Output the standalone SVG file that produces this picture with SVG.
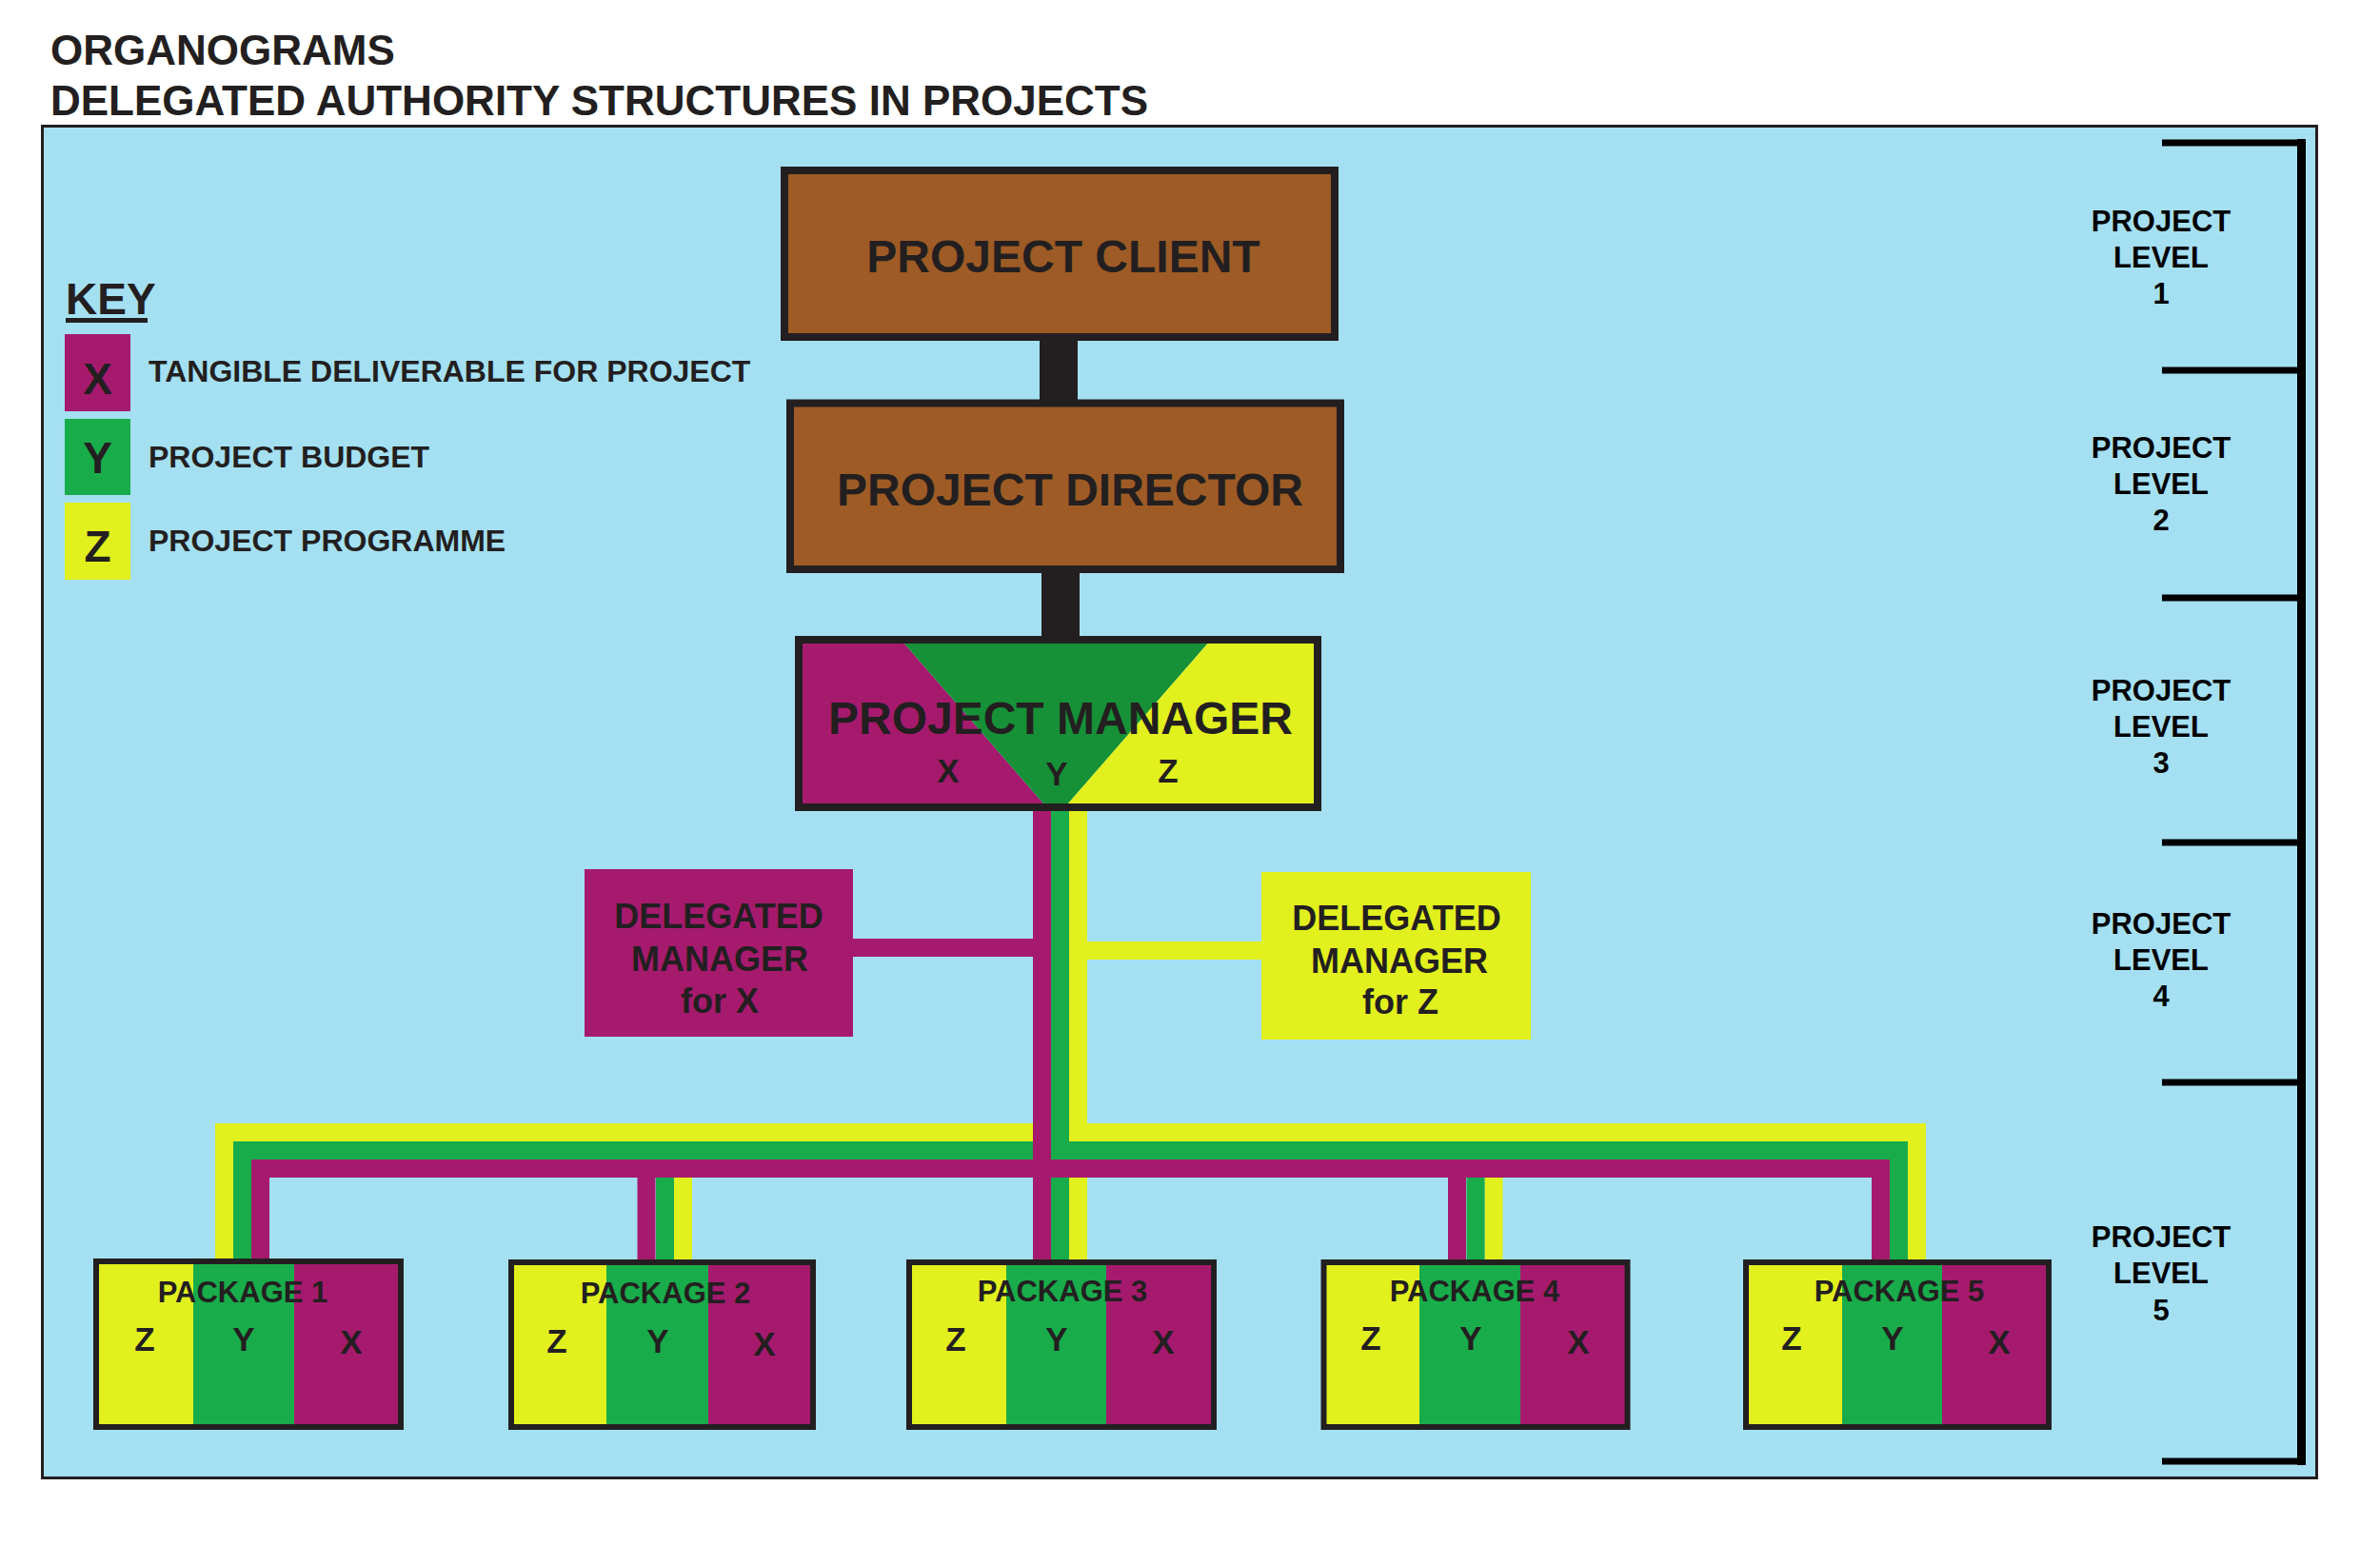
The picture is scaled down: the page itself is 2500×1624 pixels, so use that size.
<svg xmlns="http://www.w3.org/2000/svg" width="2500" height="1624" viewBox="0 0 2500 1624">
<style>
text{font-family:"Liberation Sans",Arial,Helvetica,sans-serif;font-weight:bold;fill:#231f20}
.title{font-size:44px}
.node{font-size:48px;text-anchor:middle}
.dl{font-size:36px;text-anchor:middle}
.key{font-size:32px}
.kl{font-size:46px;text-anchor:middle}
.pk{font-size:31px;text-anchor:middle}
.pl{font-size:35px;text-anchor:middle}
.lv{font-size:31px;text-anchor:middle;fill:#000}
.box{stroke:#231f20;stroke-width:8}
.pbox{fill:none;stroke:#231f20;stroke-width:6}
.mag{fill:#a61a6e}
.grn{fill:#19ac4b}
.yel{fill:#e2f01e}
.brn{fill:#9e5b25}
.cy{fill:none;stroke:#e2f01e;stroke-width:19}
.cg{fill:none;stroke:#19ac4b;stroke-width:19}
.cm{fill:none;stroke:#a61a6e;stroke-width:19}
</style>
<rect width="2500" height="1624" fill="#ffffff"/>
<text class="title" x="53" y="68">ORGANOGRAMS</text>
<text class="title" x="53" y="121">DELEGATED AUTHORITY STRUCTURES IN PROJECTS</text>
<rect x="44.5" y="132.5" width="2389" height="1420" fill="#a4e0f2" stroke="#231f20" stroke-width="3"/>

<g id="key">
<text x="69" y="330" style="font-size:46px">KEY</text>
<rect x="69" y="334" width="86" height="5" fill="#231f20"/>
<rect class="mag" x="68" y="351" width="69" height="81"/>
<text class="kl" x="102.5" y="414">X</text>
<rect class="grn" x="68" y="440" width="69" height="80"/>
<text class="kl" x="102.5" y="497">Y</text>
<rect class="yel" x="68" y="528" width="69" height="81"/>
<text class="kl" x="102.5" y="590">Z</text>
<text class="key" x="156" y="401">TANGIBLE DELIVERABLE FOR PROJECT</text>
<text class="key" x="156" y="491">PROJECT BUDGET</text>
<text class="key" x="156" y="579">PROJECT PROGRAMME</text>
</g>

<g id="connectors">
<rect x="1092" y="354" width="40" height="70" fill="#231f20"/>
<rect x="1094" y="598" width="40" height="74" fill="#231f20"/>
<path class="cy" d="M1132.5,848 V1189.5 M235.5,1323 V1189.5 H2013.5 V1323 M717.5,1189.5 V1323 M1132.5,1189.5 V1323 M1569,1189.5 V1323 M1142,998.5 H1326"/>
<path class="cg" d="M1113.5,848 V1208.5 M254.5,1323 V1208.5 H1994.5 V1323 M698.5,1208.5 V1323 M1113.5,1208.5 V1323 M1550,1208.5 V1323"/>
<path class="cm" d="M1094.5,848 V1323 M273.5,1323 V1227.5 H1975.5 V1323 M679,1227.5 V1323 M1530.5,1227.5 V1323 M895,995.5 H1090"/>
</g>

<g id="project-client">
<rect class="box brn" x="824" y="179" width="578" height="175"/>
<text class="node" x="1117" y="286">PROJECT CLIENT</text>
</g>

<g id="project-director">
<rect class="box brn" x="830" y="423.5" width="578" height="174.5"/>
<text class="node" x="1124" y="531">PROJECT DIRECTOR</text>
</g>

<g id="project-manager">
<polygon class="mag" points="843,676 950,676 1096,844 843,844"/>
<polygon fill="#169137" points="950,676 1268.5,676 1122,844 1096,844"/>
<polygon class="yel" points="1268.5,676 1380,676 1380,844 1122,844"/>
<rect class="box" fill="none" x="839" y="672" width="545" height="176"/>
<text class="node" x="1114" y="771">PROJECT MANAGER</text>
<text class="pl" x="996" y="822">X</text>
<text class="pl" x="1110" y="825">Y</text>
<text class="pl" x="1227" y="822">Z</text>
</g>

<g id="delegated-x">
<rect class="mag" x="614" y="913" width="282" height="176"/>
<text class="dl" x="755" y="975">DELEGATED</text>
<text class="dl" x="756" y="1020">MANAGER</text>
<text class="dl" x="756" y="1064">for X</text>
</g>

<g id="delegated-z">
<rect class="yel" x="1325" y="916" width="283" height="176"/>
<text class="dl" x="1467" y="977">DELEGATED</text>
<text class="dl" x="1470" y="1022">MANAGER</text>
<text class="dl" x="1471" y="1065">for Z</text>
</g>

<g id="package-1">
<rect class="yel" x="101" y="1325" width="104" height="174"/>
<rect class="grn" x="203" y="1325" width="106" height="174"/>
<rect class="mag" x="309" y="1325" width="112" height="174"/>
<rect class="pbox" x="101" y="1325" width="320" height="174"/>
<text class="pk" x="255" y="1368">PACKAGE 1</text>
<text class="pl" x="152" y="1419">Z</text>
<text class="pl" x="256" y="1419">Y</text>
<text class="pl" x="369" y="1422">X</text>
</g>

<g id="package-2">
<rect class="yel" x="537" y="1326" width="100" height="173"/>
<rect class="grn" x="637" y="1326" width="107" height="173"/>
<rect class="mag" x="744" y="1326" width="110" height="173"/>
<rect class="pbox" x="537" y="1326" width="317" height="173"/>
<text class="pk" x="699" y="1369">PACKAGE 2</text>
<text class="pl" x="585" y="1421">Z</text>
<text class="pl" x="691" y="1421">Y</text>
<text class="pl" x="803" y="1424">X</text>
</g>

<g id="package-3">
<rect class="yel" x="955" y="1326" width="102" height="173"/>
<rect class="grn" x="1057" y="1326" width="105" height="173"/>
<rect class="mag" x="1162" y="1326" width="113" height="173"/>
<rect class="pbox" x="955" y="1326" width="320" height="173"/>
<text class="pk" x="1116" y="1367">PACKAGE 3</text>
<text class="pl" x="1004" y="1419">Z</text>
<text class="pl" x="1110" y="1419">Y</text>
<text class="pl" x="1222" y="1422">X</text>
</g>

<g id="package-4">
<rect class="yel" x="1390.5" y="1326" width="100.5" height="173"/>
<rect class="grn" x="1491" y="1326" width="106" height="173"/>
<rect class="mag" x="1597" y="1326" width="112.5" height="173"/>
<rect class="pbox" x="1390.5" y="1326" width="319" height="173"/>
<text class="pk" x="1549" y="1367">PACKAGE 4</text>
<text class="pl" x="1440" y="1418">Z</text>
<text class="pl" x="1545" y="1418">Y</text>
<text class="pl" x="1658" y="1422">X</text>
</g>

<g id="package-5">
<rect class="yel" x="1834" y="1326" width="101" height="173"/>
<rect class="grn" x="1935" y="1326" width="105" height="173"/>
<rect class="mag" x="2040" y="1326" width="112" height="173"/>
<rect class="pbox" x="1834" y="1326" width="318" height="173"/>
<text class="pk" x="1995" y="1367">PACKAGE 5</text>
<text class="pl" x="1882" y="1418">Z</text>
<text class="pl" x="1988" y="1418">Y</text>
<text class="pl" x="2100" y="1422">X</text>
</g>

<g id="levels">
<rect x="2413" y="146" width="9" height="1393" fill="#000"/>
<rect x="2271" y="146.5" width="146" height="7" fill="#000"/>
<rect x="2271" y="385.5" width="146" height="7" fill="#000"/>
<rect x="2271" y="624.5" width="146" height="7" fill="#000"/>
<rect x="2271" y="881.5" width="146" height="7" fill="#000"/>
<rect x="2271" y="1133.5" width="146" height="7" fill="#000"/>
<rect x="2271" y="1531.5" width="146" height="7" fill="#000"/>
<text class="lv" x="2270" y="243">PROJECT</text>
<text class="lv" x="2270" y="281">LEVEL</text>
<text class="lv" x="2270" y="319">1</text>
<text class="lv" x="2270" y="481">PROJECT</text>
<text class="lv" x="2270" y="519">LEVEL</text>
<text class="lv" x="2270" y="557">2</text>
<text class="lv" x="2270" y="736">PROJECT</text>
<text class="lv" x="2270" y="774">LEVEL</text>
<text class="lv" x="2270" y="812">3</text>
<text class="lv" x="2270" y="981">PROJECT</text>
<text class="lv" x="2270" y="1019">LEVEL</text>
<text class="lv" x="2270" y="1057">4</text>
<text class="lv" x="2270" y="1310">PROJECT</text>
<text class="lv" x="2270" y="1348">LEVEL</text>
<text class="lv" x="2270" y="1387">5</text>
</g>
</svg>
